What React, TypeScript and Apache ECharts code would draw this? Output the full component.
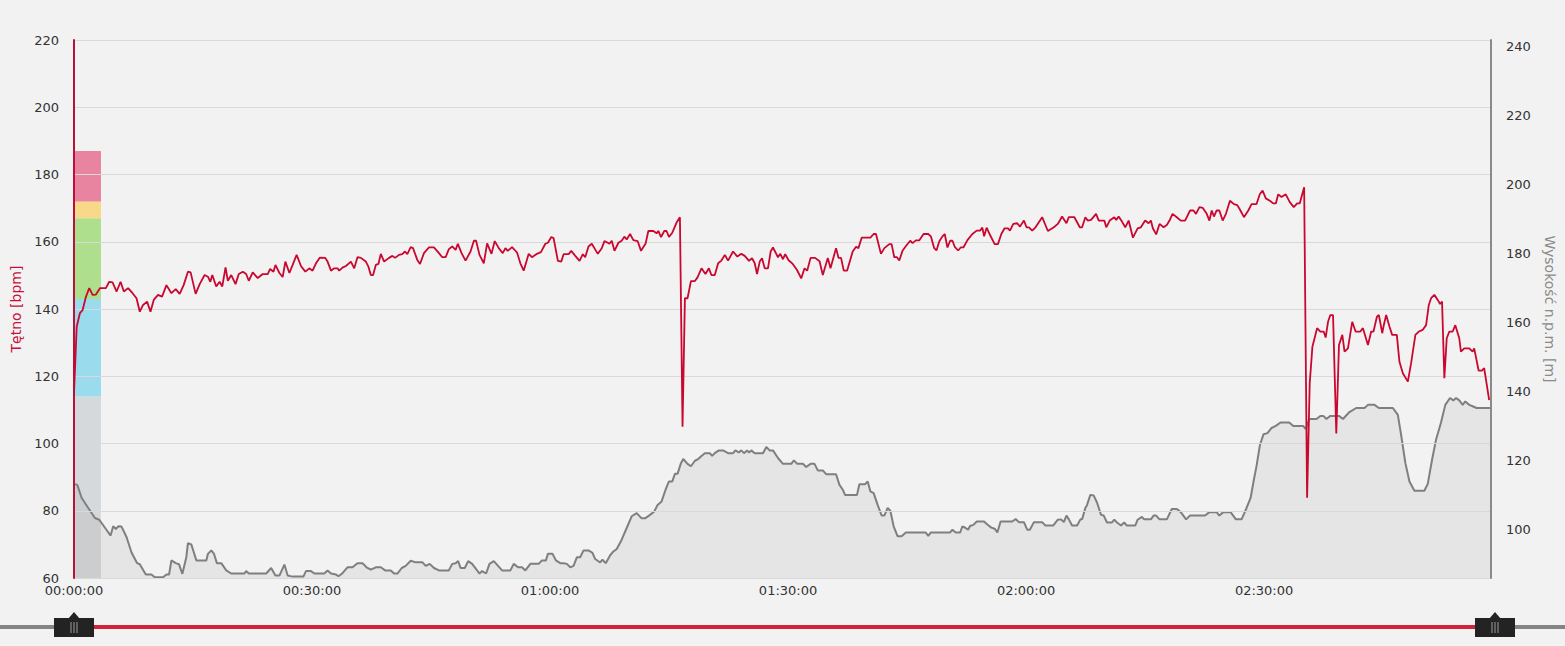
import React, { useEffect, useRef } from 'react';
import * as echarts from 'echarts';

// czas w minutach od startu, tętno [bpm]
const heartRate: [number, number][] = [
  [0, 115], [0.34, 134.7], [0.75, 138.8], [1.09, 139.7], [1.51, 143.7], [1.92, 146.2], [2.35, 144.2], [2.76, 144.3],
  [3.27, 146.2], [4.02, 146.2], [4.44, 148.1], [4.86, 147.9], [5.37, 145.2], [5.87, 148.1], [6.28, 145.2], [6.82, 146.2],
  [7.38, 144.7], [7.88, 143.2], [8.29, 139.2], [8.71, 141.2], [9.21, 142.2], [9.64, 139.2], [10.05, 142.7], [10.59, 144.2],
  [11.1, 143.7], [11.65, 147.1], [12.28, 144.7], [12.82, 145.9], [13.32, 144.5], [13.82, 147.1], [14.36, 151.1], [14.7, 150.9],
  [15.33, 144.5], [15.84, 147.4], [16.46, 150.1], [16.88, 149.6], [17.18, 148.1], [17.43, 150.1], [17.93, 146.7], [18.35, 148.1],
  [18.69, 146.7], [19.1, 152.4], [19.39, 148.4], [19.82, 150.1], [20.36, 147.4], [20.77, 150.4], [21.28, 151.1], [21.7, 150.4],
  [22.03, 148.4], [22.53, 150.9], [23.16, 149.2], [23.79, 150.4], [24.42, 150.4], [24.72, 151.9], [25.14, 151.1], [25.39, 153.1],
  [25.89, 150.7], [26.3, 149.5], [26.64, 154.1], [27.15, 150.7], [27.56, 153.1], [28.06, 156.1], [28.62, 152.7], [29.16, 151.1],
  [29.66, 152.1], [30.07, 151.4], [30.5, 153.6], [31, 155.3], [31.67, 155.2], [31.96, 154.1], [32.39, 151.4], [32.8, 152.1],
  [33.22, 152.1], [33.43, 151.4], [33.84, 152.3], [34.27, 152.8], [34.9, 154.1], [35.32, 152.1], [35.73, 155.4], [36.16, 155.2],
  [36.78, 154.1], [37.11, 152.6], [37.41, 150.1], [37.7, 150.1], [38.04, 153.1], [38.37, 153.4], [38.67, 156.4], [39.09, 154.1],
  [39.71, 155.2], [40.13, 155.8], [40.47, 155.2], [40.97, 156.1], [41.38, 156.3], [41.72, 157.1], [42.01, 156.3], [42.44, 158.4],
  [42.73, 158.1], [43.27, 154.6], [43.61, 153.4], [44.11, 156.6], [44.74, 158.3], [45.37, 158.3], [46, 156.6], [46.41, 155.4],
  [46.84, 155.4], [47.25, 157.8], [47.67, 158.6], [48.1, 157.6], [48.38, 159.4], [48.85, 156.6], [49.35, 154.4], [49.98, 157.1],
  [50.4, 160.3], [50.68, 160.3], [51.11, 156.1], [51.65, 153.6], [52.07, 159.5], [52.62, 156.4], [53.03, 160.2], [53.54, 158.1],
  [54.04, 156.6], [54.38, 158.1], [54.67, 157.3], [55.21, 158.4], [55.84, 156.8], [56.26, 153.6], [56.68, 151.4], [57.31, 156.4],
  [57.72, 155.4], [58.35, 156.4], [58.85, 156.9], [59.41, 159.4], [59.73, 159.7], [60.16, 161.4], [60.45, 161.1], [60.99, 154.3],
  [61.42, 154.1], [61.71, 156.3], [62.34, 156.3], [62.67, 157.3], [63.18, 155.8], [63.72, 154.3], [64.13, 156.3], [64.43, 155.4],
  [64.85, 158.6], [65.26, 159.4], [66.02, 156.4], [66.52, 158.1], [66.86, 160.2], [67.27, 159.7], [67.49, 159.4], [67.78, 160.3],
  [68.12, 157.3], [68.62, 159.7], [69.03, 160.3], [69.37, 161.5], [69.66, 160.7], [70.09, 162.3], [70.5, 160.5], [71.04, 160.2],
  [71.47, 157.3], [72.05, 159.5], [72.39, 163.2], [73.02, 163.2], [73.43, 162.5], [73.65, 163.2], [73.99, 161.4], [74.4, 163.2],
  [74.69, 163.2], [74.99, 161.4], [75.41, 162.7], [75.95, 165.7], [76.37, 167.3], [76.7, 105], [77, 143.2], [77.33, 143.2],
  [77.76, 148.3], [78.26, 148.3], [78.59, 149.4], [79.09, 152.1], [79.59, 150.4], [80.02, 152.1], [80.34, 150.1], [80.77, 150.1],
  [81.19, 153.6], [81.6, 154.4], [82.03, 156.1], [82.44, 154.4], [83.07, 157.1], [83.61, 155.6], [84.11, 156.4], [84.54, 155.8],
  [85.08, 154.3], [85.46, 155.1], [85.8, 153.6], [86.09, 150.4], [86.43, 154.1], [86.72, 155.1], [87.06, 152.1], [87.47, 152.1],
  [87.81, 157.1], [88.1, 158.3], [88.73, 155.4], [89.02, 156.4], [89.36, 154.8], [89.64, 156.3], [90.07, 154.5], [90.59, 153.4],
  [91.13, 151.6], [91.66, 149.1], [92.08, 152.1], [92.41, 151.4], [92.84, 155.2], [93.41, 155.2], [93.97, 154.2], [94.38, 150.1],
  [95.01, 155.2], [95.35, 152.1], [96.05, 158.1], [96.36, 155.2], [96.68, 155.2], [97.02, 151.4], [97.44, 151.4], [98.15, 157.1],
  [98.57, 158.5], [98.87, 158.1], [99.28, 161.2], [100.38, 161.2], [100.79, 162.3], [101.08, 162.3], [101.71, 156.4], [102.14, 158.1],
  [102.76, 159.3], [103.05, 159.3], [103.39, 155.4], [103.72, 155.4], [104.02, 154.4], [104.44, 157.4], [104.98, 159.1], [105.4, 160.3],
  [105.69, 159.6], [106.11, 160.4], [106.53, 160.4], [107.08, 162.3], [107.67, 162.3], [108, 161.6], [108.42, 158.1], [108.71, 157.4],
  [109.05, 160.1], [109.46, 161.6], [109.75, 162.3], [110.09, 158.3], [110.43, 160.3], [110.72, 160.3], [111.01, 158.5], [111.44, 157.4],
  [111.76, 158.3], [112.1, 158.3], [112.61, 160.5], [113.23, 162.3], [113.78, 163.3], [114.2, 163.3], [114.49, 164.2], [114.71, 161.6],
  [115.03, 164.2], [115.46, 162], [116.04, 159.3], [116.46, 159.3], [116.88, 162.3], [117.29, 164], [117.72, 164], [117.97, 163.3],
  [118.39, 165.3], [118.89, 165.5], [119.23, 164.5], [119.73, 166.3], [120.06, 164.3], [120.36, 164.3], [120.77, 163.3], [121.19, 164.3],
  [122.03, 167.3], [122.75, 163.2], [123.5, 164.3], [124, 165.3], [124.54, 167.5], [125.09, 165.5], [125.39, 167.3], [126.09, 167.3],
  [126.77, 164.3], [127.06, 164.3], [127.47, 167.3], [127.77, 166.3], [128.19, 166.5], [128.82, 168.3], [129.16, 166.3], [129.86, 166.3],
  [130.11, 164.3], [130.54, 166.3], [131.12, 167.3], [131.37, 166.5], [131.67, 167.5], [132.09, 166], [132.5, 164.3], [132.93, 166.3],
  [133.47, 161.2], [134.06, 164], [134.47, 164.3], [135.01, 166.3], [135.44, 165.5], [135.73, 166.3], [135.98, 164], [136.4, 162.2],
  [136.82, 165.3], [137.33, 164.3], [137.74, 165], [138.08, 166.3], [138.46, 168.3], [139, 167.3], [139.5, 166.3], [140.04, 166.3],
  [140.67, 169.3], [141.1, 169.3], [141.42, 168.3], [141.85, 170.3], [142.26, 170.1], [142.77, 168.3], [143.11, 166.3], [143.4, 169.3],
  [143.68, 167.5], [144.02, 169.3], [144.36, 169.3], [144.78, 166.3], [145.19, 168.3], [145.7, 172.2], [146.2, 171.2], [146.62, 170.9],
  [146.95, 169.6], [147.46, 167.3], [148.01, 169.3], [148.42, 171.2], [149.05, 171.2], [149.47, 174.2], [149.81, 175.2], [150.22, 172.9],
  [150.72, 172.2], [151.15, 171.4], [151.48, 171.4], [151.78, 174.1], [152.19, 173.3], [152.73, 174.1], [153.24, 171.8], [153.74, 170.3],
  [154.17, 171.4], [154.49, 171.4], [155.05, 176.2], [155.42, 83.9], [155.75, 117.9], [156.09, 128.8], [156.68, 134.3], [157.09, 133.3],
  [157.51, 133.3], [157.76, 131.5], [158.06, 136.2], [158.35, 138.2], [158.69, 138.2], [159.1, 103], [159.44, 129.3], [159.86, 132.3],
  [160.14, 127.3], [160.57, 128.3], [161.11, 136.2], [161.53, 133.3], [162.12, 133.3], [162.46, 134.3], [163.09, 129.3], [163.5, 133.3],
  [163.79, 133.3], [164.22, 137.7], [164.47, 138.2], [164.89, 132.8], [165.05, 134.8], [165.39, 138.2], [165.8, 134.8], [166.14, 132.3],
  [166.73, 132.3], [167.06, 124.3], [167.49, 120.9], [168.12, 118.4], [168.53, 123.9], [169.07, 132.3], [169.5, 133.3], [170, 133.8],
  [170.42, 135.2], [170.76, 141.2], [171.05, 143.2], [171.46, 144.2], [171.89, 142.7], [172.18, 141.5], [172.43, 142.2], [172.72, 119.4],
  [173.02, 131.3], [173.35, 133.3], [173.77, 133.3], [174.1, 135.2], [174.6, 131.3], [174.81, 127.3], [175.23, 128.3], [175.86, 128.3],
  [176.28, 127.3], [176.48, 128.3], [177.04, 121.7], [177.45, 121.7], [177.74, 122.4], [178.37, 112.9],
];

// czas w minutach, wysokość n.p.m. [m]
const elevation: [number, number][] = [
  [0, 113.3], [0.41, 113], [0.97, 109.2], [1.8, 106.3], [2.64, 103.4], [3.18, 102.9], [4.02, 100.2], [4.61, 98.3],
  [4.94, 101], [5.28, 100.2], [5.57, 101], [5.99, 100.9], [6.62, 97.9], [7.25, 93.4], [7.96, 90.3], [8.29, 90],
  [9.05, 87], [9.76, 87], [10.18, 86.2], [11.22, 86.2], [11.65, 87], [11.98, 87], [12.28, 91.1], [12.82, 90.3],
  [13.23, 90], [13.66, 87.2], [14.16, 92.1], [14.36, 96.1], [14.79, 95.7], [15.42, 91.1], [16.68, 91.1], [16.88, 93],
  [17.31, 94], [17.63, 93.1], [18.01, 90.3], [18.56, 90.3], [19.19, 88.2], [19.82, 87.3], [21.49, 87.3], [21.7, 88],
  [22.03, 87.3], [24.22, 87.3], [24.85, 88.9], [25.39, 86.7], [25.89, 86.7], [26.52, 89.9], [26.93, 86.7], [27.56, 86.4],
  [28.91, 86.4], [29.24, 88], [29.87, 88], [30.29, 87.3], [31.54, 87.3], [31.96, 88.2], [32.39, 87.3], [33.02, 87],
  [33.34, 86.5], [33.84, 87.4], [34.47, 89.1], [35.1, 89.1], [35.73, 90.3], [36.36, 90.3], [36.86, 89.1], [37.41, 88.4],
  [38.04, 89.1], [38.67, 89.1], [39.21, 88.2], [39.93, 88.2], [40.34, 87.3], [40.76, 87.3], [41.31, 88.9], [41.81, 89.5],
  [42.44, 91], [42.98, 90.6], [43.9, 90.6], [44.33, 89.5], [44.83, 90.1], [45.37, 88.9], [46, 88.2], [47.25, 88.2],
  [47.67, 90.1], [48.1, 90.3], [48.42, 90.9], [48.72, 88.9], [49.26, 88.9], [49.68, 90.9], [50.18, 90.1], [50.81, 88.2],
  [51.11, 87.3], [51.44, 88], [51.94, 87.3], [52.37, 90.1], [52.91, 90.9], [53.45, 89.5], [53.95, 88.2], [55.01, 88.2],
  [55.42, 90.1], [55.96, 89.1], [56.47, 89.1], [56.89, 88.2], [57.52, 90.1], [58.57, 90.1], [58.98, 91.1], [59.48, 91.1],
  [59.73, 93], [60.32, 93], [60.74, 91.1], [61.29, 90.3], [61.71, 90.3], [62.12, 90.1], [62.55, 89.1], [62.96, 89.5],
  [63.38, 92], [63.8, 92], [64.22, 94], [64.85, 94], [65.35, 93.3], [65.69, 91.5], [66.32, 90.5], [66.61, 91.3],
  [67.02, 90.3], [67.58, 92.6], [67.99, 93.7], [68.41, 94.4], [69.03, 97.1], [69.66, 100.5], [70.29, 103.9], [70.92, 104.8],
  [71.55, 103.3], [71.97, 103.3], [72.6, 104.3], [73.14, 105.3], [73.56, 107.2], [74.06, 108.2], [74.56, 111.6], [74.99, 114],
  [75.41, 114], [75.74, 116.2], [76.07, 116.2], [76.5, 119.3], [76.79, 120.5], [77.33, 119.1], [77.76, 118.4], [78.26, 120],
  [78.67, 120.5], [79.09, 121.4], [79.51, 122.2], [80.14, 122.2], [80.43, 121.4], [80.77, 122.2], [81.27, 123], [81.81, 123],
  [82.44, 122.2], [83.07, 122.2], [83.36, 123], [83.79, 122.4], [84.11, 123], [84.45, 122.2], [84.83, 123], [85.08, 122.4],
  [85.37, 123], [85.8, 122.2], [86.84, 122.2], [87.26, 124], [87.68, 123], [88.1, 123], [88.73, 120.8], [89.36, 119.1],
  [90.4, 119.1], [90.74, 120.1], [91.15, 119.1], [91.87, 119.1], [92.28, 118.2], [92.84, 119.1], [93.34, 119.1], [93.75, 117.2],
  [94.38, 117.2], [94.8, 116.1], [96.05, 116.1], [96.48, 113], [96.9, 111.6], [97.18, 110.1], [98.69, 110.1], [98.99, 113.2],
  [99.7, 113.2], [100.04, 114], [100.38, 111.1], [100.79, 110.6], [101.29, 107.2], [101.8, 104.1], [102.14, 104.1], [102.55, 106.3],
  [102.89, 105.5], [103.31, 101], [103.81, 98.1], [104.31, 98.1], [104.85, 99.2], [107.36, 99.2], [107.67, 98.2], [108, 99.2],
  [110.43, 99.2], [110.72, 100], [111.13, 99.2], [111.69, 99.2], [111.98, 101], [112.39, 100.5], [112.69, 100], [112.94, 101.1],
  [113.36, 101.4], [113.78, 102.4], [114.7, 102.4], [115.12, 101.5], [115.62, 100.6], [116.04, 100.3], [116.38, 99.2], [116.79, 102.4],
  [118.26, 102.4], [118.68, 103.1], [119.1, 102.2], [119.73, 102.2], [120.14, 100], [120.48, 100], [120.99, 102.2], [122.03, 102.2],
  [122.44, 101.2], [123.41, 101.2], [124, 102.9], [124.42, 103], [124.76, 102.2], [125.09, 104.1], [125.39, 103], [125.8, 101.2],
  [126.43, 101.2], [126.85, 103], [127.06, 103], [127.47, 106.3], [127.69, 107.2], [128.1, 110.1], [128.53, 109.9], [128.94, 107.9],
  [129.45, 104.3], [129.79, 104.1], [130.2, 102.1], [130.83, 102.1], [131.12, 102.9], [131.46, 102.1], [131.96, 101.2], [132.37, 102.1],
  [132.71, 101.2], [133.76, 101.2], [134.06, 102.9], [134.6, 103.7], [134.89, 103], [135.73, 103], [136.07, 104.1], [136.4, 104.1],
  [136.82, 103], [137.74, 103], [138.37, 106], [139, 106], [139.5, 105.1], [140.17, 103], [140.67, 104.1], [142.56, 104.1],
  [143.11, 105.1], [144.02, 105.1], [144.36, 104.1], [144.86, 105.1], [145.78, 105.1], [146.45, 103], [147.16, 103], [147.79, 106.3],
  [148.3, 109.2], [148.71, 114.5], [149.05, 118.5], [149.47, 124.5], [149.93, 127.7], [150.43, 128], [150.94, 129.5], [151.48, 130.1],
  [152.07, 131.1], [153.17, 131.1], [153.67, 130.1], [154.93, 130.1], [155.25, 129.2], [155.68, 132.1], [156.6, 132.1], [157.09, 133],
  [157.47, 133], [157.85, 132.1], [158.35, 133], [159.44, 133], [159.94, 132.1], [160.7, 134], [161.61, 135.3], [162.66, 135.3],
  [163.09, 136.2], [163.92, 136.2], [164.47, 135.3], [166.23, 135.3], [166.86, 133.3], [167.27, 127.5], [167.81, 119.3], [168.32, 114],
  [168.95, 111.3], [170.2, 111.3], [170.63, 113.3], [171.17, 120.3], [171.67, 126.1], [172.3, 131.1], [172.84, 136.2], [173.43, 138.2],
  [173.85, 137.5], [174.19, 138.2], [174.6, 137.5], [175.03, 136.2], [175.36, 137.2], [175.86, 136.2], [176.28, 135.8], [176.78, 135.3],
  [178.58, 135.3],
];

// strefy tętna (granice w bpm) i ich kolory
const zoneBounds = [60, 114, 143, 167, 172, 187];
const zoneColors = ['#d6d9db', '#9bdbee', '#addf8c', '#f8d98a', '#e8849f'];
const zoneWidthMin = 3.4;

const hrTicks = { min: 60, max: 220, step: 20 };
const elevTicks = [100, 120, 140, 160, 180, 200, 220, 240];
const elevRange = { min: 86, max: 242 };
const timeMax = 178.6;
const timeStep = 30;

const W = 1565;
const H = 646;
const GRID = { left: 74, right: 70, top: 40, bottom: 68 };
const FONT = 'DejaVu Sans';

const fmtTime = (min: number) => {
  const total = Math.round(min * 60);
  const h = Math.floor(total / 3600);
  const m = Math.floor((total % 3600) / 60);
  const s = total % 60;
  const p = (n: number) => String(n).padStart(2, '0');
  return `${p(h)}:${p(m)}:${p(s)}`;
};

const handle = (cx: number) => ({
  type: 'group',
  silent: true,
  children: [
    { type: 'polygon', shape: { points: [[cx - 6, 619], [cx, 612], [cx + 6, 619]] }, style: { fill: '#232323' } },
    { type: 'rect', shape: { x: cx - 20, y: 618, width: 40, height: 19 }, style: { fill: '#232323' } },
    { type: 'line', shape: { x1: cx - 3, y1: 622, x2: cx - 3, y2: 633 }, style: { stroke: '#9c9c9c', lineWidth: 1 } },
    { type: 'line', shape: { x1: cx, y1: 622, x2: cx, y2: 633 }, style: { stroke: '#9c9c9c', lineWidth: 1 } },
    { type: 'line', shape: { x1: cx + 3, y1: 622, x2: cx + 3, y2: 633 }, style: { stroke: '#9c9c9c', lineWidth: 1 } },
  ],
});

export default function App() {
  const chartRef = useRef<HTMLDivElement>(null);

  useEffect(() => {
    document.body.style.margin = '0';
    document.body.style.background = '#f2f2f2';
    if (!chartRef.current) return;
    const chart = echarts.init(chartRef.current, null, { renderer: 'svg' });

    const zoneAreas = zoneColors.map((color, i) => [
      { xAxis: 0, yAxis: zoneBounds[i], itemStyle: { color } },
      { xAxis: zoneWidthMin, yAxis: zoneBounds[i + 1] },
    ]);

    const leftX = GRID.left;
    const rightX = W - GRID.right;

    chart.setOption({
      animation: false,
      backgroundColor: '#f2f2f2',
      textStyle: { fontFamily: FONT },
      grid: { ...GRID, containLabel: false },
      xAxis: {
        type: 'value',
        min: 0,
        max: timeMax,
        interval: timeStep,
        axisLine: { show: true, lineStyle: { color: '#cccccc', width: 1 } },
        axisTick: { show: false },
        splitLine: { show: false },
        axisLabel: {
          color: '#333',
          fontSize: 13,
          fontFamily: FONT,
          margin: 6,
          showMaxLabel: false,
          formatter: (v: number) => fmtTime(v),
        },
      },
      yAxis: [
        {
          type: 'value',
          position: 'left',
          z: 3,
          min: hrTicks.min,
          max: hrTicks.max,
          interval: hrTicks.step,
          name: 'Tętno [bpm]',
          nameLocation: 'middle',
          nameGap: 50,
          nameTextStyle: { color: '#c8103c', fontSize: 14, fontFamily: FONT },
          axisLine: { show: true, lineStyle: { color: '#b8113a', width: 2 } },
          axisTick: { show: false },
          axisLabel: { color: '#333', fontSize: 13, fontFamily: FONT, margin: 15 },
          splitLine: { show: true, lineStyle: { color: '#d9d9d9', width: 1 } },
        },
        {
          type: 'value',
          position: 'right',
          z: 3,
          min: elevRange.min,
          max: elevRange.max,
          name: 'Wysokość n.p.m. [m]',
          nameLocation: 'middle',
          nameGap: 52,
          nameRotate: -90,
          nameTextStyle: { color: '#8a8a8a', fontSize: 14, fontFamily: FONT },
          axisLine: { show: true, lineStyle: { color: '#8a8a8a', width: 2 } },
          axisTick: { show: false },
          axisLabel: { color: '#333', fontSize: 13, fontFamily: FONT, margin: 15, customValues: elevTicks },
          splitLine: { show: false },
        },
      ],
      series: [
        {
          name: 'strefy',
          type: 'line',
          yAxisIndex: 0,
          data: [],
          z: 1,
          silent: true,
          markArea: { silent: true, data: zoneAreas },
        },
        {
          name: 'Wysokość',
          type: 'line',
          yAxisIndex: 1,
          data: elevation,
          symbol: 'none',
          z: 2,
          lineStyle: { color: '#7f7f7f', width: 2 },
          areaStyle: { color: 'rgba(0,0,0,0.075)', origin: 'start' },
        },
        {
          name: 'Tętno',
          type: 'line',
          yAxisIndex: 0,
          data: heartRate,
          symbol: 'none',
          z: 4,
          lineStyle: { color: '#c9072f', width: 1.8 },
        },
      ],
      graphic: [
        { type: 'rect', silent: true, shape: { x: 0, y: 625, width: W, height: 4 }, style: { fill: '#858585' } },
        {
          type: 'rect',
          silent: true,
          shape: { x: leftX + 19, y: 625, width: rightX - leftX - 38, height: 4 },
          style: { fill: '#d2233c' },
        },
        handle(leftX),
        handle(rightX),
      ],
    });

    return () => chart.dispose();
  }, []);

  return (
    <div style={{ width: W, height: H, background: '#f2f2f2' }}>
      <div ref={chartRef} style={{ width: W, height: H }} />
    </div>
  );
}
